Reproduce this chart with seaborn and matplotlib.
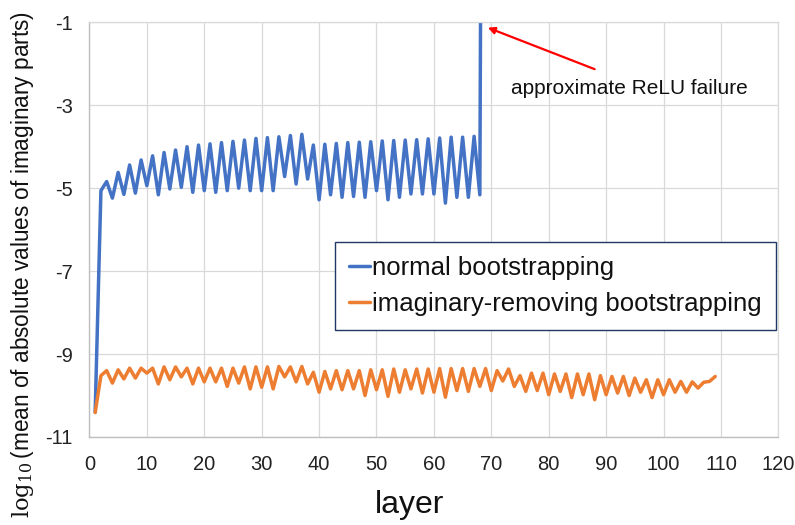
import matplotlib
matplotlib.use("Agg")
import matplotlib.pyplot as plt
import matplotlib.transforms as mtransforms
import pandas as pd
import seaborn as sns

# log10 of mean |imag| per layer
normal_layers = list(range(1, 70))
normal_values = [
    -10.40, -5.06, -4.84, -5.24, -4.62, -5.15, -4.44, -5.12, -4.32, -4.94,
    -4.22, -5.16, -4.14, -5.02, -4.08, -4.98, -4.00, -5.10, -3.96, -5.06,
    -3.93, -5.10, -3.90, -5.06, -3.87, -5.00, -3.84, -5.06, -3.80, -5.06,
    -3.78, -5.06, -3.76, -4.72, -3.73, -4.90, -3.70, -4.78, -3.96, -5.28,
    -3.94, -5.16, -3.92, -5.22, -3.90, -5.20, -3.89, -5.22, -3.88, -5.06,
    -3.86, -5.28, -3.85, -5.22, -3.84, -5.14, -3.83, -5.14, -3.81, -5.14,
    -3.79, -5.36, -3.77, -5.22, -3.77, -5.22, -3.75, -5.16, 30.0,
]

removing_layers = list(range(1, 110))
removing_values = [
    -10.41, -9.52, -9.40, -9.70, -9.38, -9.60, -9.34, -9.58, -9.34, -9.46,
    -9.34, -9.72, -9.31, -9.62, -9.31, -9.55, -9.34, -9.72, -9.34, -9.67,
    -9.34, -9.67, -9.34, -9.78, -9.34, -9.70, -9.31, -9.84, -9.31, -9.80,
    -9.31, -9.84, -9.30, -9.55, -9.31, -9.67, -9.30, -9.72, -9.44, -9.92,
    -9.42, -9.84, -9.40, -9.86, -9.40, -9.84, -9.40, -10.00, -9.38, -9.86,
    -9.38, -10.02, -9.36, -9.92, -9.38, -9.84, -9.36, -9.94, -9.36, -9.92,
    -9.35, -10.04, -9.35, -9.88, -9.35, -9.90, -9.35, -9.78, -9.35, -9.88,
    -9.40, -9.65, -9.36, -9.78, -9.52, -9.90, -9.46, -9.88, -9.46, -9.98,
    -9.48, -9.90, -9.48, -10.05, -9.48, -9.98, -9.48, -10.10, -9.52, -9.98,
    -9.54, -9.94, -9.54, -10.00, -9.58, -9.92, -9.62, -10.05, -9.62, -9.98,
    -9.62, -9.92, -9.66, -9.92, -9.67, -9.82, -9.68, -9.66, -9.54,
]

series_names = ["normal bootstrapping", "imaginary-removing bootstrapping"]
series_colors = ["#4472C4", "#ED7D31"]

x_ticks = list(range(0, 121, 10))
y_ticks = [-1, -3, -5, -7, -9, -11]
y_tick_labels = ["-1", "-3", "-5", "-7", "-9", "-11"]

annotation_text = "approximate ReLU failure"

df = pd.concat([
    pd.DataFrame({"layer": normal_layers, "value": normal_values,
                  "series": series_names[0]}),
    pd.DataFrame({"layer": removing_layers, "value": removing_values,
                  "series": series_names[1]}),
], ignore_index=True)

sns.set_theme(style="whitegrid")
plt.rcParams["font.family"] = ["Liberation Sans", "DejaVu Sans"]
plt.rcParams["mathtext.fontset"] = "dejavuserif"
plt.rcParams["axes.unicode_minus"] = False

fig = plt.figure(figsize=(7.95, 5.25), dpi=100)
ax = fig.add_axes([0.1125, 0.16762, 0.8666, 0.7899])

sns.lineplot(data=df, x="layer", y="value", hue="series",
             hue_order=series_names, palette=series_colors,
             linewidth=2.5, ax=ax, legend=False, sort=False,
             estimator=None)

ax.set_xlim(0, 120)
ax.set_ylim(-11, -1)
ax.set_xticks(x_ticks)
ax.set_yticks(y_ticks)
ax.set_yticklabels(y_tick_labels)

shift = mtransforms.ScaledTranslation(-4 / 100, 0, fig.dpi_scale_trans)
for lab in ax.get_xticklabels():
    lab.set_fontsize(14.5)
    lab.set_color("#222222")
    lab.set_transform(lab.get_transform() + shift)
for lab in ax.get_yticklabels():
    lab.set_fontsize(14.5)
    lab.set_color("#222222")
ax.tick_params(axis="x", length=0, pad=13)
ax.tick_params(axis="y", length=0, pad=12)

ax.grid(True, color="#D9D9D9", linewidth=0.9)
ax.set_axisbelow(True)
for side in ["left", "bottom"]:
    ax.spines[side].set_color("#BFBFBF")
    ax.spines[side].set_linewidth(1.0)
for side in ["top", "right"]:
    ax.spines[side].set_color("#D9D9D9")
    ax.spines[side].set_linewidth(0.9)

ax.set_xlabel("layer", fontsize=23, color="#111111")
ax.xaxis.set_label_coords(0.465, -0.128)
ax.set_ylabel(r"$\log_{10}$(mean of absolute values of imaginary parts)",
              fontsize=16.3, color="#111111")
ax.yaxis.set_label_coords(-0.077, 0.415)

handles = [plt.Line2D([], [], color=c, linewidth=2.5) for c in series_colors]
leg = ax.legend(handles, series_names, loc="center",
                bbox_to_anchor=(0.6758, 0.3646), fontsize=18.5,
                frameon=True, fancybox=False, edgecolor="#203864",
                framealpha=1.0, handlelength=0.85, handletextpad=0.05,
                borderpad=0.55, labelspacing=0.45, borderaxespad=0)
leg.get_frame().set_linewidth(1.0)
for t in leg.get_texts():
    t.set_color("#111111")

ax.annotate("", xy=(69.4, -1.13), xytext=(88.0, -2.13),
            arrowprops=dict(arrowstyle="-|>", color="#FF0000", lw=1.6,
                            mutation_scale=10, shrinkA=0, shrinkB=0))
ax.text(94.1, -2.73, annotation_text, fontsize=15, ha="center",
        va="baseline", color="#111111")

fig.savefig("out.png", dpi=100)
